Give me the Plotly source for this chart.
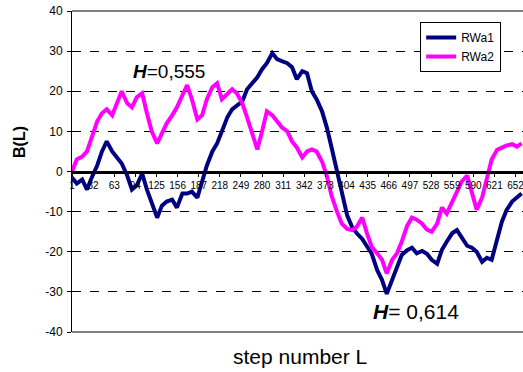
import plotly.graph_objects as go

# step index (category number) at which values were read
steps = [1, 8, 16, 23, 30, 38, 45, 52, 60, 67, 74, 82, 89, 96, 104, 111, 118, 126, 133, 140,
         148, 155, 163, 170, 177, 185, 192, 199, 207, 214, 221, 229, 236, 243, 251, 258, 265, 273, 280, 287,
         295, 302, 309, 317, 324, 331, 339, 346, 353, 360, 368, 375, 382, 390, 397, 405, 412, 419, 427, 434,
         441, 449, 456, 463, 471, 478, 485, 493, 500, 507, 515, 522, 529, 537, 544, 551, 559, 566, 573, 581,
         588, 595, 603, 610, 617, 625, 632, 639, 647, 654, 661]

rwa1 = [-1.5, -3, -2, -4.5, -1.5, 1.5, 5, 7.5, 5, 3.6, 2, -1, -4.5, -3.5, -0.5, -4.5, -7.5, -11.5, -8.5, -7.5,
        -7, -9, -5.5, -5.5, -5, -6.5, -2.5, 1.5, 5, 7, 10, 13.5, 15.5, 16.5, 17.5, 20.5, 22, 23.5, 25.5, 27,
        29.5, 28, 27.5, 27, 26, 23, 25, 24.5, 20, 18, 15, 11, 6, 0, -6, -11, -13.8, -15.4, -16.8, -18.5,
        -20.5, -24.6, -27, -30.5, -27, -23.8, -20.8, -19.6, -19, -20.4, -19.8, -20.5, -22, -23, -19.5, -17.5, -15.4, -14.6, -16.5, -18.5,
        -19, -20, -22.5, -21.5, -22, -17, -12.5, -9.6, -7.5, -6.5, -5.5]

rwa2 = [0, 3, 3.7, 5, 8.5, 12.5, 14.5, 15.5, 14, 17, 20, 17, 16, 18.5, 19.5, 14.5, 10, 7, 9.5, 12,
        14, 16, 19, 21.5, 18, 13, 14, 18, 21, 22, 18, 19.5, 20.5, 19.5, 17, 13.5, 10, 5.5, 10, 15,
        14, 12.5, 11, 10, 7.5, 6, 3.5, 5, 5.5, 5, 2.5, -1, -6, -10, -13, -14.3, -14.6, -13.8, -11.5, -15.4,
        -18.8, -20.4, -22, -25.4, -22, -20.4, -17.5, -13.5, -11.5, -12, -13, -14.5, -15, -13, -9, -10.5, -7.5, -5, -2.5, -1,
        -5.5, -9.5, -6.5, -1.5, 3, 5.4, 6, 6.5, 6.8, 6.2, 7]

x_tick_vals = list(range(1, 653, 31))
x_tick_text = [str(v) for v in x_tick_vals]
y_tick_vals = [-40, -30, -20, -10, 0, 10, 20, 30, 40]
y_tick_text = ["-40", "-30", "-20", "-10", "0", "10", "20", "30", "40"]

FONT = "Liberation Sans, Arial, sans-serif"

fig = go.Figure()
fig.add_trace(go.Scatter(x=steps, y=rwa1, mode="lines", name="RWa1",
                         line=dict(color="#000080", width=4)))
fig.add_trace(go.Scatter(x=steps, y=rwa2, mode="lines", name="RWa2",
                         line=dict(color="#FF00FF", width=4)))

fig.update_layout(
    width=523, height=372,
    margin=dict(l=72, r=0, t=11, b=40),
    paper_bgcolor="white", plot_bgcolor="white",
    font=dict(family=FONT, color="black"),
    showlegend=True,
    legend=dict(x=0.772, y=0.966, xanchor="left", yanchor="top",
                bordercolor="black", borderwidth=1, bgcolor="white",
                font=dict(size=12, family=FONT)),
    xaxis=dict(range=[1, 663], tickvals=x_tick_vals, ticktext=x_tick_text,
               anchor="free", position=0.5, showgrid=False, zeroline=False,
               showline=True, linecolor="black", linewidth=3,
               ticks="outside", ticklen=3, tickcolor="black",
               ticklabeloverflow="allow",
               tickfont=dict(size=10, family=FONT, color="black")),
    yaxis=dict(range=[-40, 40], tickvals=y_tick_vals, ticktext=y_tick_text,
               showgrid=True, gridcolor="black", griddash="dash", gridwidth=1,
               zeroline=False, showline=True, linecolor="black", linewidth=1,
               ticks="outside", ticklen=4, tickcolor="black", ticklabelstandoff=2,
               tickfont=dict(size=12, family=FONT, color="black")),
)

# plot-area top and bottom border
fig.add_shape(type="line", xref="paper", yref="paper", x0=0, x1=1, y0=1, y1=1,
              line=dict(color="black", width=1), layer="above")
fig.add_shape(type="line", xref="paper", yref="paper", x0=0, x1=1, y0=0, y1=0,
              line=dict(color="black", width=1), layer="above")

def px_x(p):
    return (p - 72) / 451

def px_y(p):
    return (332 - p) / 321

fig.add_annotation(text="<b><i>H</i></b>=0,555", xref="paper", yref="paper",
                   x=px_x(169), y=px_y(71), xanchor="center", yanchor="middle", showarrow=False,
                   font=dict(size=19, family=FONT, color="black"))
fig.add_annotation(text="<b><i>H</i></b>= 0,614", xref="paper", yref="paper",
                   x=px_x(416), y=px_y(311), xanchor="center", yanchor="middle", showarrow=False,
                   font=dict(size=21, family=FONT, color="black"))
fig.add_annotation(text="<b>B(L)</b>", xref="paper", yref="paper",
                   x=px_x(19), y=px_y(142), xanchor="center", yanchor="middle", showarrow=False,
                   textangle=-90, font=dict(size=16, family=FONT, color="black"))
fig.add_annotation(text="step number L", xref="paper", yref="paper",
                   x=px_x(300), y=px_y(357), xanchor="center", yanchor="middle", showarrow=False,
                   font=dict(size=21, family=FONT, color="black"))

fig.write_html("out.html", config={"displayModeBar": False},
               post_script="document.body.style.margin='0px';document.body.style.overflow='hidden';")
